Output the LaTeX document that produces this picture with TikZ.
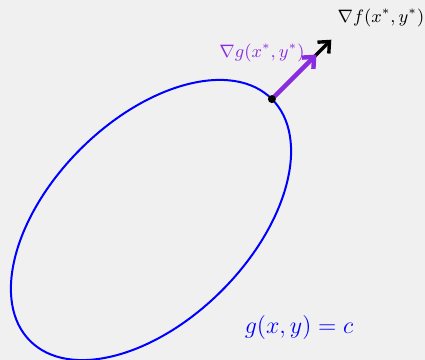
\documentclass[tikz,border=0pt]{standalone}
\usepackage{amsmath,amssymb}
\usepackage{tikz}
\usetikzlibrary{arrows.meta,calc}
\definecolor{bgray}{HTML}{F0F0F0}
\definecolor{gradpurple}{HTML}{8A2BE2}

\begin{document}
\begin{tikzpicture}[
      x=0.5pt,y=0.5pt,
      curve/.style={draw=blue,line width=1pt},
      grad/.style={-{Straight Barb[length=4.5pt,width=8pt]},line width=1.7pt},
      lbl/.style={font=\small,inner sep=1pt}
    ]
    \fill[bgray] (0,0) rectangle (425,360);
    \useasboundingbox (0,0) rectangle (425,360);
    % level set ellipse
    \coordinate (c) at (151,140);
    \draw[curve,rotate around={45:(c)}] (c) ellipse [x radius=171, y radius=100];
    % gradients at the tangent point
    \coordinate (p) at ($(c)+(45:171)$);
    \coordinate (fend) at ($(p)+(45:84)$);
    \coordinate (gend) at ($(p)+(45:63)$);
    \draw[grad,black] (p) -- (fend);
    \draw[grad,gradpurple,line width=2.2pt] (p) -- (gend);
    \fill[black] (p) circle (4);
    \node[lbl,black] (flabel) at (381,342) {$\nabla f(x^{*},y^{*})$};
    \node[lbl,gradpurple] (glabel) at (262,307) {$\nabla g(x^{*},y^{*})$};
    \node[font=\large,blue] (curvelabel) at (299,32) {$g(x,y)=c$};
  \end{tikzpicture}
\end{document}
